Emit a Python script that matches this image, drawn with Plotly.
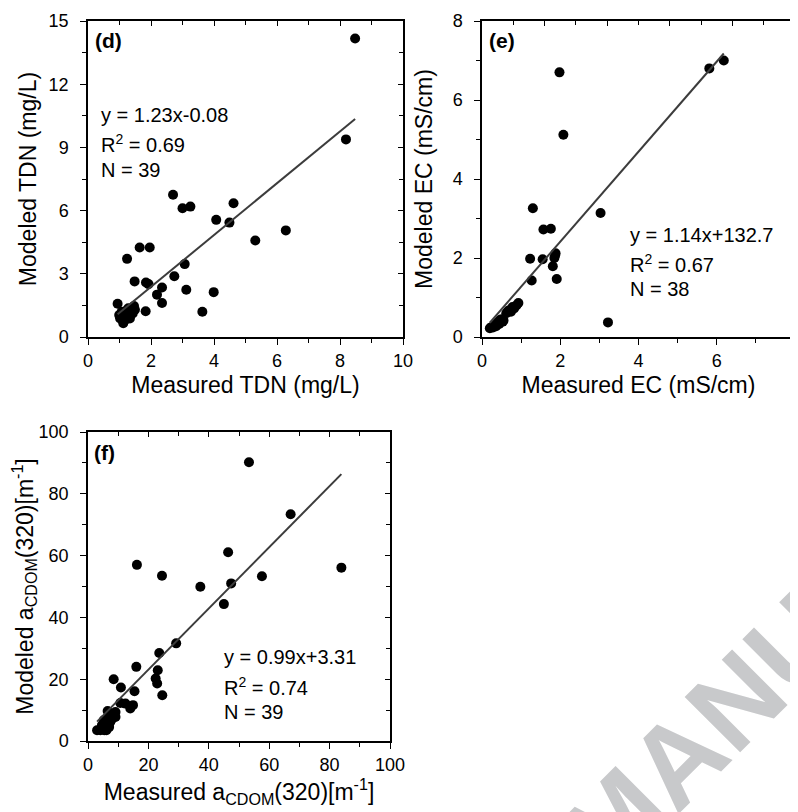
import plotly.graph_objects as go

# ---------------- data ----------------
d_measured = [8.48, 8.19, 2.70, 3.00, 3.25, 4.62, 4.07, 4.49, 5.31, 6.28, 1.64, 1.96, 1.24, 3.07, 2.74,
              1.48, 1.84, 1.92, 2.35, 2.19, 3.12, 3.99, 2.35, 1.83, 3.63, 0.94, 1.02, 1.12, 1.23, 1.33,
              1.39, 1.46, 1.07, 1.28, 1.17, 1.42, 0.99, 1.49, 1.23]
d_modeled = [14.17, 9.38, 6.75, 6.11, 6.19, 6.35, 5.56, 5.43, 4.58, 5.06, 4.25, 4.25, 3.71, 3.46, 2.88,
             2.64, 2.59, 2.51, 2.35, 2.01, 2.24, 2.13, 1.61, 1.22, 1.20, 1.58, 0.88, 0.65, 1.04, 0.88,
             1.28, 1.47, 1.20, 1.36, 0.80, 1.12, 1.04, 1.29, 1.27]
d_slope, d_intercept = 1.23, -0.08

e_measured = [1.98, 2.08, 5.81, 6.18, 1.30, 3.03, 1.57, 1.76, 1.23, 1.55, 1.88, 1.85, 1.87, 1.81, 1.91,
              1.27, 3.22, 0.20, 0.24, 0.28, 0.30, 0.33, 0.36, 0.38, 0.41, 0.44, 0.46, 0.50, 0.53, 0.55,
              0.62, 0.66, 0.70, 0.74, 0.78, 0.82, 0.88, 0.93]
e_modeled = [6.70, 5.12, 6.80, 7.00, 3.26, 3.14, 2.72, 2.74, 1.98, 1.97, 2.12, 2.00, 2.07, 1.79, 1.47,
             1.43, 0.37, 0.22, 0.25, 0.24, 0.28, 0.30, 0.27, 0.35, 0.38, 0.33, 0.43, 0.45, 0.39, 0.42,
             0.60, 0.65, 0.68, 0.64, 0.76, 0.72, 0.80, 0.86]
e_slope, e_intercept = 1.14, 0.1327  # 132.7 uS/cm

f_measured = [53.3, 67.1, 46.4, 83.9, 16.2, 24.5, 57.6, 37.2, 47.4, 45.0, 29.2, 23.6, 16.0, 8.5, 23.1,
              22.4, 22.9, 24.6, 10.9, 15.4, 10.7, 12.4, 14.0, 14.9, 3.0, 4.1, 5.4, 5.2, 6.3, 6.9,
              7.4, 8.5, 9.1, 6.5, 8.0, 9.1, 6.1, 4.6, 7.0]
f_modeled = [90.2, 73.4, 61.1, 56.1, 57.0, 53.5, 53.3, 49.9, 51.0, 44.3, 31.6, 28.5, 24.0, 20.0, 22.9,
             20.2, 18.6, 14.8, 17.3, 16.1, 12.3, 12.1, 10.5, 11.6, 3.5, 3.5, 3.5, 6.7, 5.1, 7.8,
             6.2, 8.3, 9.4, 9.7, 7.2, 7.8, 3.5, 5.1, 4.5]
f_slope, f_intercept = 0.99, 3.31

panel_labels = ["(d)", "(e)", "(f)"]
stats_d = ["y = 1.23x-0.08", "R<sup>2</sup> = 0.69", "N = 39"]
stats_e = ["y = 1.14x+132.7", "R<sup>2</sup> = 0.67", "N = 38"]
stats_f = ["y = 0.99x+3.31", "R<sup>2</sup> = 0.74", "N = 39"]

x_titles = ["Measured TDN (mg/L)", "Measured EC (mS/cm)", "Measured a<sub>CDOM</sub>(320)[m<sup>-1</sup>]"]
y_titles = ["Modeled TDN (mg/L)", "Modeled EC (mS/cm)", "Modeled a<sub>CDOM</sub>(320)[m<sup>-1</sup>]"]

# ---------------- layout helpers ----------------
# the page body adds an 8px margin, so the figure is 8px smaller and all
# reference pixel positions are shifted by that offset
OFF = 8
W, H = 798 - OFF, 812 - OFF
FONT = "Arial, Liberation Sans, sans-serif"
boxes = [(88, 21, 403, 337), (482, 21, 795, 337), (88, 432, 390, 741)]  # reference px: l, t, r, b
xranges = [[0, 10], [0, 8], [0, 100]]
yranges = [[0, 15], [0, 8], [0, 100]]
xdt = [2, 2, 20]
ydt = [3, 2, 20]
# mirrored (top/right) tick frames; panel (e) reuses panel (d)'s frame in the original
top_ranges = [[0, 10], [0, 10], [0, 100]]
top_dt = [2, 2, 20]
right_ranges = [[0, 15], [0, 15], [0, 100]]
right_dt = [3, 3, 20]
ytitle_standoff = [6, 14, 4]
xtitle_standoff = [7, 7, 1]


def px2paper(px, py):
    return (px - OFF) / W, 1 - (py - OFF) / H


fig = go.Figure()

series = [(d_measured, d_modeled, d_slope, d_intercept),
          (e_measured, e_modeled, e_slope, e_intercept),
          (f_measured, f_modeled, f_slope, f_intercept)]

for i, (xs, ys, m, b) in enumerate(series):
    k = i + 1
    xa = "x" if k == 1 else f"x{k}"
    ya = "y" if k == 1 else f"y{k}"
    x0, x1 = min(xs), max(xs)
    fig.add_trace(go.Scatter(x=xs, y=ys, mode="markers", xaxis=xa, yaxis=ya,
                             marker=dict(color="black", size=10, line=dict(width=0)),
                             showlegend=False))
    fig.add_trace(go.Scatter(x=[x0, x1], y=[m * x0 + b, m * x1 + b], mode="lines",
                             xaxis=xa, yaxis=ya, line=dict(color="#3c3c3c", width=2),
                             showlegend=False))
    # invisible copies that carry the top / right frame axes
    fig.add_trace(go.Scatter(x=xs, y=ys, xaxis=f"x{k+3}", yaxis=ya, mode="markers",
                             marker=dict(opacity=0, size=1), showlegend=False, hoverinfo="skip"))
    fig.add_trace(go.Scatter(x=xs, y=ys, xaxis=xa, yaxis=f"y{k+3}", mode="markers",
                             marker=dict(opacity=0, size=1), showlegend=False, hoverinfo="skip"))

layout = dict(width=W, height=H, margin=dict(l=0, r=0, t=0, b=0, autoexpand=False),
              paper_bgcolor="white", plot_bgcolor="white",
              font=dict(family=FONT, color="black"), showlegend=False)

for i in range(3):
    k = i + 1
    L, T, R, B = boxes[i]
    xl, yb = px2paper(L, B)
    xr, yt = px2paper(R, T)
    xname = "xaxis" if k == 1 else f"xaxis{k}"
    yname = "yaxis" if k == 1 else f"yaxis{k}"
    xid = "x" if k == 1 else f"x{k}"
    yid = "y" if k == 1 else f"y{k}"
    common = dict(showgrid=False, zeroline=False, showline=True, linecolor="black", linewidth=1.5,
                  ticks="outside", ticklen=6, tickwidth=1.3, tickcolor="black",
                  tickfont=dict(size=18, family=FONT))
    layout[xname] = dict(common, domain=[xl, xr], anchor=yid, range=xranges[i], dtick=xdt[i], tick0=0,
                         minor=dict(ticks="outside", ticklen=4, tickwidth=1.3, tickcolor="black",
                                    dtick=xdt[i] / 2, tick0=0, showgrid=False),
                         ticklabelstandoff=1,
                         title=dict(text=x_titles[i], font=dict(size=23, family=FONT),
                                    standoff=xtitle_standoff[i]))
    layout[yname] = dict(common, domain=[yb, yt], anchor=xid, range=yranges[i], dtick=ydt[i], tick0=0,
                         minor=dict(ticks="outside", ticklen=4, tickwidth=1.3, tickcolor="black",
                                    dtick=ydt[i] / 2, tick0=0, showgrid=False),
                         ticklabelstandoff=8,
                         title=dict(text=y_titles[i], font=dict(size=23, family=FONT),
                                    standoff=ytitle_standoff[i]))
    frame = dict(showgrid=False, zeroline=False, showline=True, linecolor="black", linewidth=1.5,
                 ticks="inside", ticklen=5, tickwidth=1.3, tickcolor="black", showticklabels=False)
    layout[f"xaxis{k+3}"] = dict(frame, overlaying=xid, side="top", anchor=yid, range=top_ranges[i],
                                 dtick=top_dt[i], tick0=0,
                                 minor=dict(ticks="inside", ticklen=4, tickwidth=1.3, tickcolor="black",
                                            dtick=top_dt[i] / 2, tick0=0, showgrid=False))
    layout[f"yaxis{k+3}"] = dict(frame, overlaying=yid, side="right", anchor=xid, range=right_ranges[i],
                                 dtick=right_dt[i], tick0=0,
                                 minor=dict(ticks="inside", ticklen=4, tickwidth=1.3, tickcolor="black",
                                            dtick=right_dt[i] / 2, tick0=0, showgrid=False))

annotations = []
label_pos = [(93, 41), (487, 41), (92, 453)]
for lbl, (px, py) in zip(panel_labels, label_pos):
    x, y = px2paper(px, py)
    annotations.append(dict(text=f"<b>{lbl}</b>", x=x, y=y, xref="paper", yref="paper",
                            xanchor="left", yanchor="middle", showarrow=False,
                            font=dict(size=21, family=FONT, color="black")))

stats_pos = [(99, [115, 143, 170]), (628, [235, 263, 289]), (222, [657, 686, 712])]
for lines, (px, pys) in zip([stats_d, stats_e, stats_f], stats_pos):
    for txt, py in zip(lines, pys):
        x, y = px2paper(px, py)
        annotations.append(dict(text=txt, x=x, y=y, xref="paper", yref="paper",
                                xanchor="left", yanchor="middle", showarrow=False,
                                font=dict(size=20, family=FONT, color="black")))

# diagonal "accepted manuscript" watermark fragment (clipped by the page edge, as in the original)
wx, wy = px2paper(702, 734)
annotations.append(dict(text="<b>MANU</b>", x=wx, y=wy, xref="paper", yref="paper",
                        xanchor="center", yanchor="middle", showarrow=False, textangle=-45,
                        font=dict(size=114, family=FONT, color="#c8c9cb")))

layout["annotations"] = annotations
fig.update_layout(**layout)
fig.write_html("out.html")
